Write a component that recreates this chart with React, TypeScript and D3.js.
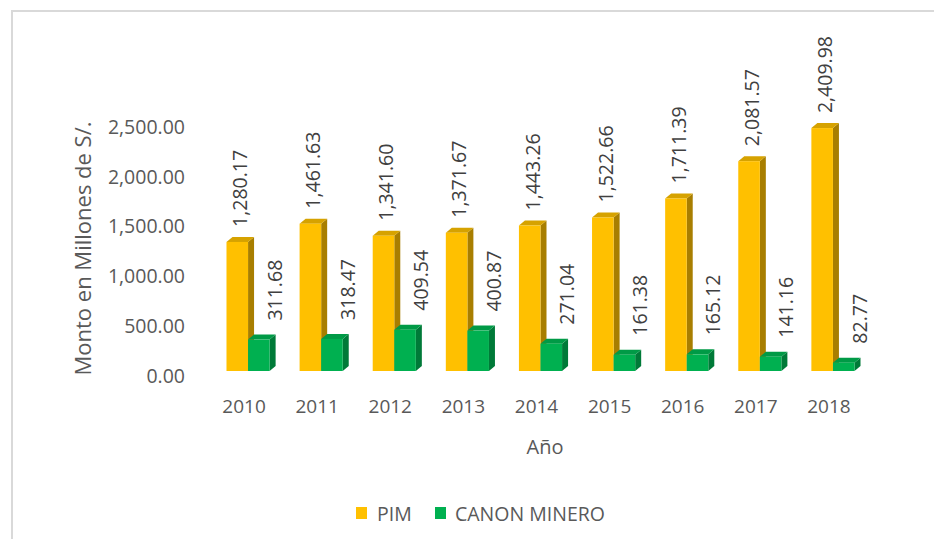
import * as d3 from "d3";

const years = ["2010", "2011", "2012", "2013", "2014", "2015", "2016", "2017", "2018"];
const pim = [1280.17, 1461.63, 1341.6, 1371.67, 1443.26, 1522.66, 1711.39, 2081.57, 2409.98];
const canon = [311.68, 318.47, 409.54, 400.87, 271.04, 161.38, 165.12, 141.16, 82.77];
const yTicks = [0, 500, 1000, 1500, 2000, 2500];

const W = 934;
const H = 539;
const font = "'Open Sans', sans-serif";
const textColor = "#595959";

const fmt = d3.format(",.2f");

const series = [
  { name: "PIM", values: pim, front: "#FFC000", side: "#A87E00", top: "#D6A200", labelDx: 3, labelGap: 15 },
  { name: "CANON MINERO", values: canon, front: "#00B050", side: "#007A38", top: "#009A46", labelDx: 16, labelGap: 19 },
];

export default function App() {
  const depthX = 6;
  const depthY = 5;

  // category band for the front faces of the bars
  const x = d3.scaleBand<string>().domain(years).range([211.5, 869.5]).paddingInner(0.41).paddingOuter(0.205);
  const inner = d3.scaleBand<string>().domain(series.map((s) => s.name)).range([0, x.bandwidth()]);

  // bars (front plane) and axis labels (back wall) use slightly different projections
  const yBar = d3.scaleLinear([0, 2500], [371, 119]);
  const yAxis = d3.scaleLinear([0, 2500], [376, 127]);

  return (
    <div style={{ position: "fixed", left: 0, top: 0 }}>
      <svg width={W} height={H} style={{ display: "block", background: "#fff" }}>
        <path d={`M12,${H} V11 H${W}`} fill="none" stroke="#d9d9d9" strokeWidth={2} />

        {/* y axis tick labels */}
        <g fontFamily={font} fontSize={19.5} fill={textColor} textAnchor="end">
          {yTicks.map((t) => (
            <text key={t} x={185} y={yAxis(t)} dy="0.35em">
              {fmt(t)}
            </text>
          ))}
        </g>

        <text
          transform={`translate(83,${yAxis(1250) - 3}) rotate(-90)`}
          fontFamily={font}
          fontSize={22}
          fill={textColor}
          textAnchor="middle"
          dy="0.35em"
        >
          Monto en Millones de S/.
        </text>

        {/* bars */}
        {years.map((yr, i) => (
          <g key={yr}>
            {series.map((s) => {
              const x0 = (x(yr) ?? 0) + (inner(s.name) ?? 0);
              const w = inner.bandwidth();
              const y0 = yBar(s.values[i]);
              const yb = yBar(0);
              return (
                <g key={s.name}>
                  <polygon
                    points={`${x0 + w},${y0} ${x0 + w + depthX},${y0 - depthY} ${x0 + w + depthX},${yb - depthY} ${x0 + w},${yb}`}
                    fill={s.side}
                  />
                  <polygon
                    points={`${x0},${y0} ${x0 + depthX},${y0 - depthY} ${x0 + w + depthX},${y0 - depthY} ${x0 + w},${y0}`}
                    fill={s.top}
                  />
                  <rect x={x0} y={y0} width={w} height={yb - y0} fill={s.front} />
                </g>
              );
            })}
          </g>
        ))}

        {/* data labels */}
        <g fontFamily={font} fontSize={19.5} fill="#404040">
          {years.map((yr, i) =>
            series.map((s) => {
              const cx = (x(yr) ?? 0) + (inner(s.name) ?? 0) + inner.bandwidth() / 2 + s.labelDx;
              const y0 = yBar(s.values[i]) - s.labelGap;
              return (
                <text key={yr + s.name} transform={`translate(${cx},${y0}) rotate(-90)`} dy="0.35em">
                  {fmt(s.values[i])}
                </text>
              );
            })
          )}
        </g>

        {/* x axis labels */}
        <g fontFamily={font} fontSize={19} fill={textColor} textAnchor="middle">
          {years.map((yr) => (
            <text key={yr} x={(x(yr) ?? 0) + x.bandwidth() / 2 - 4} y={406} dy="0.35em">
              {yr}
            </text>
          ))}
        </g>

        <text x={545} y={447} fontFamily={font} fontSize={20} fill={textColor} textAnchor="middle" dy="0.35em">
          Año
        </text>

        {/* legend */}
        <g fontFamily={font} fontSize={19.5} fill={textColor}>
          <rect x={356} y={507} width={11} height={12} fill={series[0].front} />
          <text x={377} y={514} dy="0.35em">PIM</text>
          <rect x={435} y={507} width={11} height={12} fill={series[1].front} />
          <text x={455} y={514} dy="0.35em">CANON MINERO</text>
        </g>
      </svg>
    </div>
  );
}
